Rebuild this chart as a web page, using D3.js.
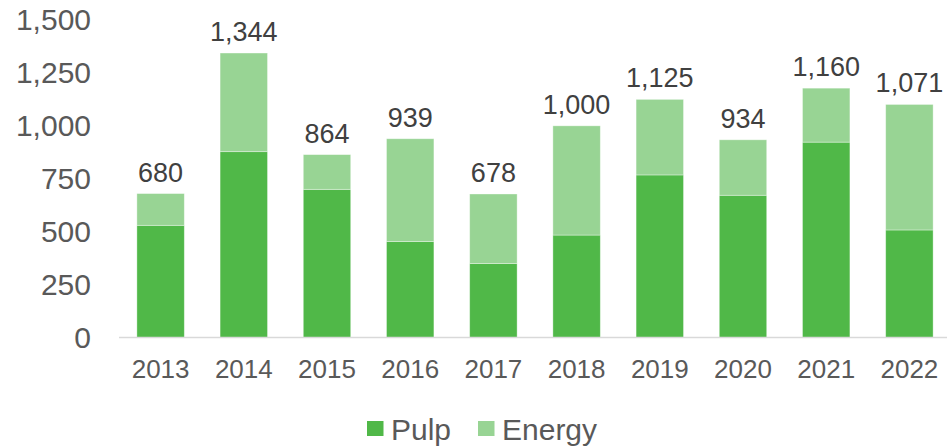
<!DOCTYPE html>
<html>
<head>
<meta charset="utf-8">
<script src="https://cdn.jsdelivr.net/npm/d3@7"></script>
<style>
  body { margin: 0; background: #fff; }
  text { font-family: "Liberation Sans", Arial, sans-serif; }
</style>
</head>
<body>
<div id="chart"></div>
<script>
// chart data
const years = ["2013", "2014", "2015", "2016", "2017", "2018", "2019", "2020", "2021", "2022"];
const pulp = [530, 878, 700, 454, 350, 484, 768, 672, 923, 508];
const energy = [150, 466, 164, 485, 328, 516, 357, 262, 255, 593];
const totalLabels = ["680", "1,344", "864", "939", "678", "1,000", "1,125", "934", "1,160", "1,071"];
const yTicks = [0, 250, 500, 750, 1000, 1250, 1500];
const seriesNames = ["Pulp", "Energy"];
const colors = ["#50b848", "#98d494"];

const width = 947;
const height = 447;

const svg = d3.select("#chart")
    .append("svg")
    .attr("width", width)
    .attr("height", height);

const x = d3.scaleBand()
    .domain(years)
    .range([119, 951])
    .paddingInner(0.43)
    .paddingOuter(0.215);

const y = d3.scaleLinear()
    .domain([0, 1500])
    .range([337.5, 20]);

// stack the two series
const rows = years.map((yr, i) => ({ year: yr, Pulp: pulp[i], Energy: energy[i] }));
const stacked = d3.stack().keys(seriesNames)(rows);

// y axis labels (no line, no ticks)
const yAxis = svg.append("g")
    .attr("transform", "translate(91,0)")
    .call(d3.axisLeft(y).tickValues(yTicks).tickSize(0).tickPadding(0).tickFormat(d3.format(",")));
yAxis.select(".domain").remove();
yAxis.selectAll("text")
    .attr("fill", "#595959")
    .style("font-size", "30px")
    .style("font-family", "'Liberation Sans', Arial, sans-serif");

// bars
svg.selectAll("g.series")
    .data(stacked)
    .enter()
    .append("g")
    .attr("class", "series")
    .attr("fill", (d, i) => colors[i])
    .selectAll("rect")
    .data(d => d)
    .enter()
    .append("rect")
    .attr("x", d => x(d.data.year))
    .attr("y", d => y(d[1]))
    .attr("width", x.bandwidth())
    .attr("height", d => y(d[0]) - y(d[1]))
    .attr("stroke", "#ffffff")
    .attr("stroke-opacity", 0.45)
    .attr("stroke-width", 0.8);

// x axis
const xAxis = svg.append("g")
    .attr("transform", "translate(0,337.5)")
    .call(d3.axisBottom(x).tickSize(0).tickPadding(22));
xAxis.select(".domain")
    .attr("d", "M119,0H947")
    .attr("stroke", "#d9d9d9")
    .attr("stroke-width", 1.5);
xAxis.selectAll("text")
    .attr("fill", "#595959")
    .style("font-size", "26px")
    .style("font-family", "'Liberation Sans', Arial, sans-serif");

// total labels above the bars
const topLayer = stacked[stacked.length - 1];
svg.selectAll("text.total")
    .data(topLayer)
    .enter()
    .append("text")
    .attr("class", "total")
    .attr("x", d => x(d.data.year) + x.bandwidth() / 2)
    .attr("y", d => y(d[1]) - 12)
    .attr("text-anchor", "middle")
    .attr("fill", "#404040")
    .style("font-size", "27px")
    .text((d, i) => totalLabels[i]);

// legend
const legend = svg.append("g").attr("transform", "translate(367,0)");
const legendX = [0, 111];
seriesNames.forEach((name, i) => {
    legend.append("rect")
        .attr("x", legendX[i])
        .attr("y", 421)
        .attr("width", 16.5)
        .attr("height", 15)
        .attr("fill", colors[i]);
    legend.append("text")
        .attr("x", legendX[i] + 24)
        .attr("y", 440)
        .attr("fill", "#595959")
        .style("font-size", "30px")
        .text(name);
});
</script>
</body>
</html>
